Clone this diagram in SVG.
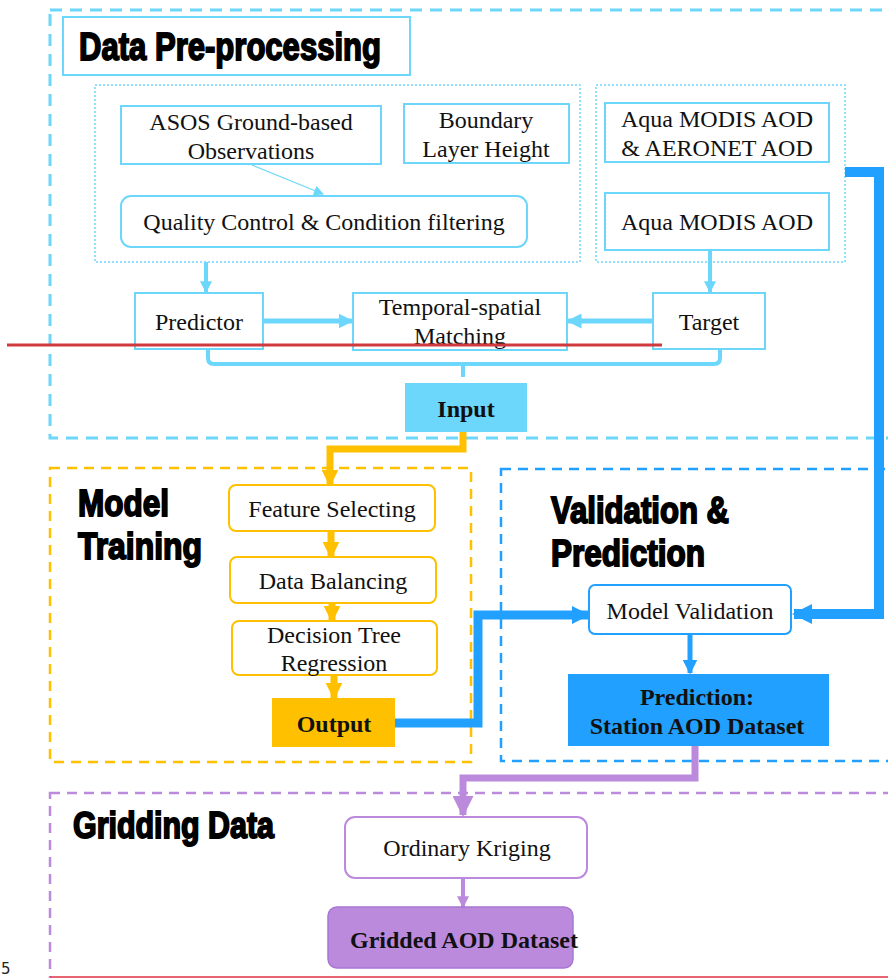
<svg xmlns="http://www.w3.org/2000/svg" width="888" height="978" viewBox="0 0 888 978">
<defs>
<style>
.t{font-family:"Liberation Serif","Times New Roman",serif;font-size:24px;fill:#111;text-anchor:middle}
.tb{font-family:"Liberation Serif","Times New Roman",serif;font-size:24px;font-weight:bold;fill:#111;text-anchor:middle}
.h{font-family:"Liberation Sans",Arial,sans-serif;font-weight:bold;fill:#000;stroke:#000;stroke-width:1.8}
.lb{fill:#fff;stroke:#6dd6fb;stroke-width:2}
.ob{fill:#fff;stroke:#ffc000;stroke-width:2}
.bb{fill:#fff;stroke:#22a0ff;stroke-width:2}
.pb{fill:#fff;stroke:#bb8add;stroke-width:2}
</style>
<marker id="aL" viewBox="0 0 10 10" refX="9" refY="5" markerWidth="3" markerHeight="3" orient="auto"><path d="M0,0L10,5L0,10z" fill="#6dd6fb"/></marker>
<marker id="aLt" viewBox="0 0 10 10" refX="9" refY="5" markerWidth="12" markerHeight="10" markerUnits="userSpaceOnUse" orient="auto"><path d="M0,0L10,5L0,10z" fill="#6dd6fb"/></marker>
<marker id="aO" viewBox="0 0 10 10" refX="9" refY="5" markerWidth="2.4" markerHeight="2.8" orient="auto"><path d="M0,0L10,5L0,10z" fill="#ffc000"/></marker>
<marker id="aB" viewBox="0 0 10 10" refX="9" refY="5" markerWidth="2" markerHeight="2.5" orient="auto"><path d="M0,0L10,5L0,10z" fill="#22a0ff"/></marker>
<marker id="aB2" viewBox="0 0 10 10" refX="9" refY="5" markerWidth="3" markerHeight="3" orient="auto"><path d="M0,0L10,5L0,10z" fill="#22a0ff"/></marker>
<marker id="aP" viewBox="0 0 10 10" refX="9" refY="5" markerWidth="3" markerHeight="3" orient="auto"><path d="M0,0L10,5L0,10z" fill="#bb8add"/></marker>
</defs>

<!-- section frames -->
<g id="frames" fill="none">
<rect x="50" y="10" width="850" height="428" stroke="#6dd6fb" stroke-width="3" stroke-dasharray="12,8"/>
<rect x="95" y="85" width="485" height="177" stroke="#6dd6fb" stroke-width="1.5" stroke-dasharray="2,2"/>
<rect x="596" y="85" width="249" height="177" stroke="#6dd6fb" stroke-width="1.5" stroke-dasharray="2,2"/>
<rect x="50" y="468" width="421" height="294" stroke="#ffc000" stroke-width="2.5" stroke-dasharray="10,7"/>
<rect x="501" y="469" width="400" height="292" stroke="#22a0ff" stroke-width="2.5" stroke-dasharray="10,7"/>
<rect x="50" y="793" width="850" height="190" stroke="#bb8add" stroke-width="2.5" stroke-dasharray="10,7"/>
</g>

<!-- connectors -->
<g id="connectors" fill="none">
<line x1="252" y1="165" x2="323" y2="194" stroke="#6dd6fb" stroke-width="1.2" marker-end="url(#aLt)"/>
<line x1="206" y1="262" x2="206" y2="292" stroke="#6dd6fb" stroke-width="4" marker-end="url(#aL)"/>
<line x1="710" y1="250" x2="710" y2="292" stroke="#6dd6fb" stroke-width="4" marker-end="url(#aL)"/>
<line x1="263" y1="321" x2="352" y2="321" stroke="#6dd6fb" stroke-width="5" marker-end="url(#aL)"/>
<line x1="653" y1="321" x2="568" y2="321" stroke="#6dd6fb" stroke-width="5" marker-end="url(#aL)"/>
<path d="M208,349V358Q208,364 214,364H714Q720,364 720,358V349M463,364V377" stroke="#6dd6fb" stroke-width="4"/>
<path d="M463,432V449H330V485" stroke="#ffc000" stroke-width="7" marker-end="url(#aO)"/>
<line x1="331" y1="531" x2="331" y2="557" stroke="#ffc000" stroke-width="7" marker-end="url(#aO)"/>
<line x1="332" y1="603" x2="332" y2="621" stroke="#ffc000" stroke-width="7" marker-end="url(#aO)"/>
<line x1="334" y1="675" x2="334" y2="698" stroke="#ffc000" stroke-width="7" marker-end="url(#aO)"/>
<path d="M395,723H478V615H588" stroke="#22a0ff" stroke-width="9" marker-end="url(#aB)"/>
<path d="M845,172H879V614H794" stroke="#22a0ff" stroke-width="10" marker-end="url(#aB)"/>
<line x1="690" y1="634" x2="690" y2="673" stroke="#22a0ff" stroke-width="5" marker-end="url(#aB2)"/>
<path d="M695,746V778H463V815" stroke="#bb8add" stroke-width="7" marker-end="url(#aP)"/>
<line x1="463" y1="878" x2="463" y2="907" stroke="#bb8add" stroke-width="4" marker-end="url(#aP)"/>
</g>

<!-- titles -->
<g id="title-preproc">
<rect x="63" y="17" width="347" height="58" fill="#fff" stroke="#6dd6fb" stroke-width="2"/>
<text class="h" x="79" y="60" font-size="38" textLength="302" lengthAdjust="spacingAndGlyphs">Data Pre-processing</text>
</g>
<g id="title-training">
<text class="h" x="78" y="516" font-size="36" textLength="91" lengthAdjust="spacingAndGlyphs">Model</text>
<text class="h" x="78" y="559" font-size="36" textLength="124" lengthAdjust="spacingAndGlyphs">Training</text>
</g>
<g id="title-validation">
<text class="h" x="551" y="523" font-size="36" textLength="178" lengthAdjust="spacingAndGlyphs">Validation &amp;</text>
<text class="h" x="551" y="566" font-size="36" textLength="154" lengthAdjust="spacingAndGlyphs">Prediction</text>
</g>
<g id="title-gridding">
<text class="h" x="73" y="838" font-size="36" textLength="201" lengthAdjust="spacingAndGlyphs">Gridding Data</text>
</g>

<!-- nodes -->
<g id="asos"><rect class="lb" x="121" y="106" width="260" height="58"/>
<text class="t" x="251" y="130">ASOS Ground-based</text><text class="t" x="251" y="159">Observations</text></g>
<g id="blh"><rect class="lb" x="404" y="104" width="165" height="59"/>
<text class="t" x="486" y="128">Boundary</text><text class="t" x="486" y="157">Layer Height</text></g>
<g id="qc"><rect class="lb" x="121" y="196" width="406" height="51" rx="10"/>
<text class="t" x="324" y="230">Quality Control &amp; Condition filtering</text></g>
<g id="modis-aeronet"><rect class="lb" x="605" y="103" width="224" height="59"/>
<text class="t" x="717" y="127">Aqua MODIS AOD</text><text class="t" x="717" y="156">&amp; AERONET AOD</text></g>
<g id="modis"><rect class="lb" x="605" y="193" width="224" height="57"/>
<text class="t" x="717" y="230">Aqua MODIS AOD</text></g>
<g id="predictor"><rect class="lb" x="135" y="293" width="128" height="56"/>
<text class="t" x="199" y="330">Predictor</text></g>
<g id="matching"><rect class="lb" x="353" y="293" width="214" height="57"/>
<text class="t" x="460" y="315">Temporal-spatial</text><text class="t" x="460" y="344">Matching</text></g>
<g id="target"><rect class="lb" x="653" y="293" width="112" height="56"/>
<text class="t" x="709" y="330">Target</text></g>
<g id="input"><rect x="405" y="383" width="122" height="49" fill="#6dd6fb"/>
<text class="tb" x="466" y="417">Input</text></g>

<g id="feature"><rect class="ob" x="229" y="485" width="206" height="46" rx="7"/>
<text class="t" x="332" y="517">Feature Selecting</text></g>
<g id="balancing"><rect class="ob" x="230" y="557" width="206" height="46" rx="7"/>
<text class="t" x="333" y="589">Data Balancing</text></g>
<g id="dtr"><rect class="ob" x="232" y="621" width="205" height="54" rx="7"/>
<text class="t" x="334" y="643">Decision Tree</text><text class="t" x="334" y="671">Regression</text></g>
<g id="output"><rect x="272" y="698" width="123" height="49" fill="#ffc000"/>
<text class="tb" x="334" y="732">Output</text></g>

<g id="validation"><rect class="bb" x="589" y="585" width="202" height="49" rx="6"/>
<text class="t" x="690" y="619">Model Validation</text></g>
<g id="prediction"><rect x="568" y="674" width="261" height="72" fill="#22a0ff"/>
<text class="tb" x="697" y="705">Prediction:</text><text class="tb" x="697" y="734">Station AOD Dataset</text></g>

<g id="kriging"><rect class="pb" x="345" y="817" width="242" height="61" rx="10"/>
<text class="t" x="467" y="856">Ordinary Kriging</text></g>
<g id="gridded"><rect x="328" y="907" width="245" height="61" rx="9" fill="#bb8add" stroke="#a977d2" stroke-width="1.5"/>
<text class="tb" x="464" y="948">Gridded AOD Dataset</text></g>

<!-- stray marks -->
<line x1="7" y1="345" x2="662" y2="345" stroke="#d0393e" stroke-width="3"/>
<line x1="50" y1="977" x2="888" y2="977" stroke="#e03040" stroke-width="1.5"/>
<text x="1" y="974" font-family="DejaVu Sans,sans-serif" font-size="15" fill="#222">5</text>
</svg>
